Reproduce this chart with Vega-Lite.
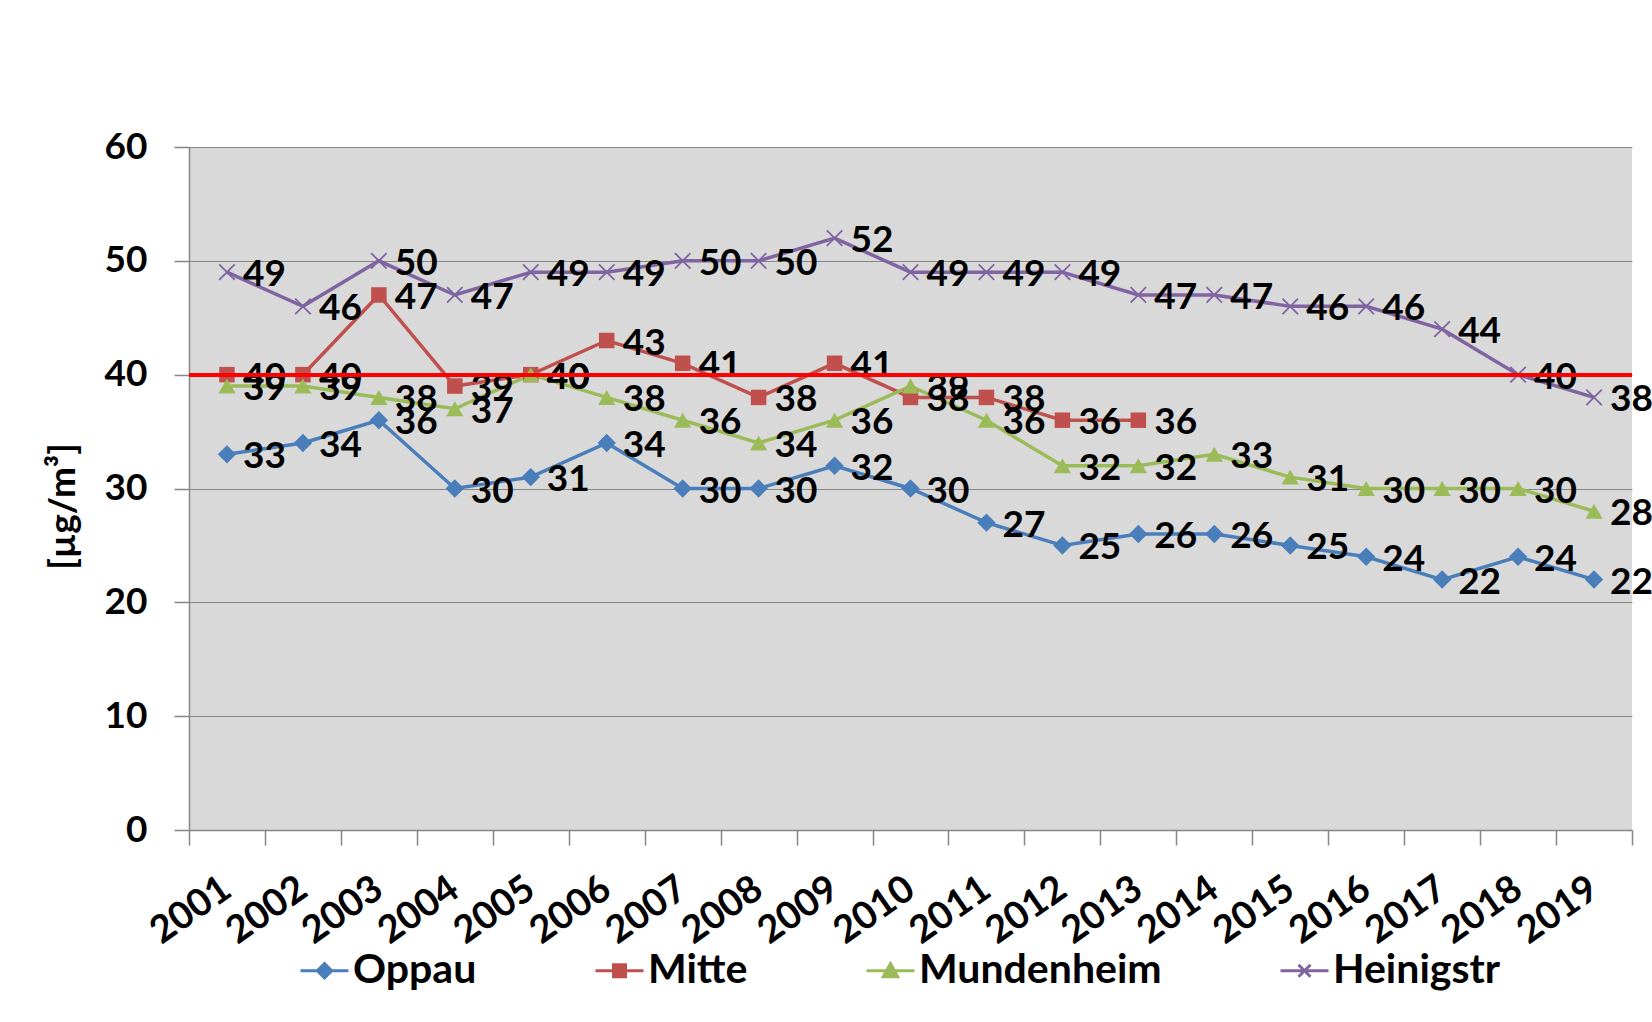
{
  "$schema": "https://vega.github.io/schema/vega-lite/v6.json",
  "width": 1443,
  "height": 683,
  "autosize": {"type": "none"},
  "padding": {"left": 189, "top": 147, "right": 20, "bottom": 192},
  "background": "white",
  "config": {
    "view": {"fill": "#d9d9d9", "stroke": null},
    "font": "Lato",
    "axis": {
      "labelFont": "Lato", "labelFontWeight": "bold", "labelFontSize": 37, "labelColor": "black",
      "titleFont": "Lato", "titleFontWeight": "bold", "titleFontSize": 37, "titleColor": "black",
      "domainColor": "#868686", "tickColor": "#868686", "gridColor": "#868686", "domainWidth": 1.5, "tickWidth": 1.5
    },
    "legend": {"labelFont": "Lato", "labelFontWeight": "bold", "labelFontSize": 41, "labelColor": "black", "labelLimit": 0}
  },
  "data": {"values": [
    {"year": "2001", "station": "Oppau", "value": 33},
    {"year": "2002", "station": "Oppau", "value": 34},
    {"year": "2003", "station": "Oppau", "value": 36},
    {"year": "2004", "station": "Oppau", "value": 30},
    {"year": "2005", "station": "Oppau", "value": 31},
    {"year": "2006", "station": "Oppau", "value": 34},
    {"year": "2007", "station": "Oppau", "value": 30},
    {"year": "2008", "station": "Oppau", "value": 30},
    {"year": "2009", "station": "Oppau", "value": 32},
    {"year": "2010", "station": "Oppau", "value": 30},
    {"year": "2011", "station": "Oppau", "value": 27},
    {"year": "2012", "station": "Oppau", "value": 25},
    {"year": "2013", "station": "Oppau", "value": 26},
    {"year": "2014", "station": "Oppau", "value": 26},
    {"year": "2015", "station": "Oppau", "value": 25},
    {"year": "2016", "station": "Oppau", "value": 24},
    {"year": "2017", "station": "Oppau", "value": 22},
    {"year": "2018", "station": "Oppau", "value": 24},
    {"year": "2019", "station": "Oppau", "value": 22},
    {"year": "2001", "station": "Mitte", "value": 40},
    {"year": "2002", "station": "Mitte", "value": 40},
    {"year": "2003", "station": "Mitte", "value": 47},
    {"year": "2004", "station": "Mitte", "value": 39},
    {"year": "2005", "station": "Mitte", "value": 40},
    {"year": "2006", "station": "Mitte", "value": 43},
    {"year": "2007", "station": "Mitte", "value": 41},
    {"year": "2008", "station": "Mitte", "value": 38},
    {"year": "2009", "station": "Mitte", "value": 41},
    {"year": "2010", "station": "Mitte", "value": 38},
    {"year": "2011", "station": "Mitte", "value": 38},
    {"year": "2012", "station": "Mitte", "value": 36},
    {"year": "2013", "station": "Mitte", "value": 36},
    {"year": "2001", "station": "Mundenheim", "value": 39},
    {"year": "2002", "station": "Mundenheim", "value": 39},
    {"year": "2003", "station": "Mundenheim", "value": 38},
    {"year": "2004", "station": "Mundenheim", "value": 37},
    {"year": "2005", "station": "Mundenheim", "value": 40},
    {"year": "2006", "station": "Mundenheim", "value": 38},
    {"year": "2007", "station": "Mundenheim", "value": 36},
    {"year": "2008", "station": "Mundenheim", "value": 34},
    {"year": "2009", "station": "Mundenheim", "value": 36},
    {"year": "2010", "station": "Mundenheim", "value": 39},
    {"year": "2011", "station": "Mundenheim", "value": 36},
    {"year": "2012", "station": "Mundenheim", "value": 32},
    {"year": "2013", "station": "Mundenheim", "value": 32},
    {"year": "2014", "station": "Mundenheim", "value": 33},
    {"year": "2015", "station": "Mundenheim", "value": 31},
    {"year": "2016", "station": "Mundenheim", "value": 30},
    {"year": "2017", "station": "Mundenheim", "value": 30},
    {"year": "2018", "station": "Mundenheim", "value": 30},
    {"year": "2019", "station": "Mundenheim", "value": 28},
    {"year": "2001", "station": "Heinigstr", "value": 49},
    {"year": "2002", "station": "Heinigstr", "value": 46},
    {"year": "2003", "station": "Heinigstr", "value": 50},
    {"year": "2004", "station": "Heinigstr", "value": 47},
    {"year": "2005", "station": "Heinigstr", "value": 49},
    {"year": "2006", "station": "Heinigstr", "value": 49},
    {"year": "2007", "station": "Heinigstr", "value": 50},
    {"year": "2008", "station": "Heinigstr", "value": 50},
    {"year": "2009", "station": "Heinigstr", "value": 52},
    {"year": "2010", "station": "Heinigstr", "value": 49},
    {"year": "2011", "station": "Heinigstr", "value": 49},
    {"year": "2012", "station": "Heinigstr", "value": 49},
    {"year": "2013", "station": "Heinigstr", "value": 47},
    {"year": "2014", "station": "Heinigstr", "value": 47},
    {"year": "2015", "station": "Heinigstr", "value": 46},
    {"year": "2016", "station": "Heinigstr", "value": 46},
    {"year": "2017", "station": "Heinigstr", "value": 44},
    {"year": "2018", "station": "Heinigstr", "value": 40},
    {"year": "2019", "station": "Heinigstr", "value": 38}
  ]},
  "encoding": {
    "x": {
      "field": "year", "type": "ordinal",
      "scale": {"type": "band", "paddingInner": 0, "paddingOuter": 0},
      "axis": {
        "title": null, "tickBand": "extent", "tickSize": 15, "labelAngle": -35,
        "labelAlign": "right", "labelBaseline": "middle", "labelPadding": 40,
        "labelOverlap": false, "labelBound": false, "labelFontSize": 38
      }
    },
    "y": {
      "field": "value", "type": "quantitative",
      "scale": {"domain": [0, 60], "nice": false, "zero": true},
      "axis": {
        "title": "[µg/m³]", "values": [0, 10, 20, 30, 40, 50, 60], "grid": true,
        "tickSize": 15, "labelPadding": 27, "titlePadding": 22, "titleY": 359
      }
    }
  },
  "layer": [
    {
      "mark": {"type": "line", "strokeWidth": 3.5},
      "encoding": {
        "color": {
          "field": "station", "type": "nominal",
          "scale": {"domain": ["Oppau", "Mitte", "Mundenheim", "Heinigstr"], "range": ["#4a7ebb", "#c0504d", "#9bbb59", "#8064a2"]},
          "legend": {"orient": "none", "legendX": 115, "legendY": 803, "direction": "horizontal", "title": null, "symbolSize": 576, "labelOffset": 8, "columnPadding": 112, "symbolStrokeWidth": 3}
        }
      }
    },
    {
      "transform": [{"filter": "datum.station === 'Oppau'"}],
      "mark": {"type": "point", "shape": "diamond", "filled": true, "size": 340, "color": "#4a7ebb", "opacity": 1}
    },
    {
      "transform": [{"filter": "datum.station === 'Mitte'"}],
      "mark": {"type": "point", "shape": "square", "filled": true, "size": 240, "color": "#c0504d", "opacity": 1}
    },
    {
      "transform": [{"filter": "datum.station === 'Mundenheim'"}],
      "mark": {"type": "point", "shape": "triangle-up", "filled": true, "size": 300, "color": "#9bbb59", "opacity": 1}
    },
    {
      "transform": [{"filter": "datum.station === 'Heinigstr'"}],
      "mark": {"type": "point", "shape": "M-1,-1L1,1M-1,1L1,-1", "filled": false, "size": 240, "color": "#8064a2", "strokeWidth": 1.8, "opacity": 1}
    },
    {
      "transform": [{"filter": "datum.value < 0"}],
      "mark": {"type": "point", "filled": true, "strokeWidth": 3, "opacity": 1},
      "encoding": {
        "color": {
          "field": "station", "type": "nominal",
          "legend": {"orient": "none", "legendX": 115, "legendY": 803, "direction": "horizontal", "title": null, "symbolSize": 576, "labelOffset": 8, "columnPadding": 112, "symbolStrokeWidth": 3}
        },
        "stroke": {
          "field": "station", "type": "nominal",
          "scale": {"domain": ["Oppau", "Mitte", "Mundenheim", "Heinigstr"], "range": ["#4a7ebb", "#c0504d", "#9bbb59", "#8064a2"]},
          "legend": {"orient": "none", "legendX": 115, "legendY": 803, "direction": "horizontal", "title": null, "symbolSize": 576, "labelOffset": 8, "columnPadding": 112, "symbolStrokeWidth": 3}
        },
        "shape": {
          "field": "station", "type": "nominal",
          "scale": {
            "domain": ["Oppau", "Mitte", "Mundenheim", "Heinigstr"],
            "range": [
              "M-2,0H2M0,-0.6L0.6,0L0,0.6L-0.6,0Z",
              "M-2,0H2M-0.5,-0.5H0.5V0.5H-0.5Z",
              "M-2,0H2M0,-0.6L0.6,0.5H-0.6Z",
              "M-2,0H2M-0.5,-0.5L0.5,0.5M-0.5,0.5L0.5,-0.5"
            ]
          },
          "legend": {"orient": "none", "legendX": 115, "legendY": 803, "direction": "horizontal", "title": null, "symbolSize": 576, "labelOffset": 8, "columnPadding": 112, "symbolStrokeWidth": 3}
        }
      }
    },
    {
      "mark": {"type": "text", "align": "left", "baseline": "middle", "dx": 16, "dy": 3, "font": "Lato", "fontWeight": "bold", "fontSize": 37, "color": "black"},
      "encoding": {
        "text": {"field": "value", "type": "quantitative"}
      }
    },
    {
      "mark": {"type": "rule", "color": "#ff0000", "strokeWidth": 3},
      "encoding": {"y": {"datum": 40}, "x": null}
    }
  ]
}
